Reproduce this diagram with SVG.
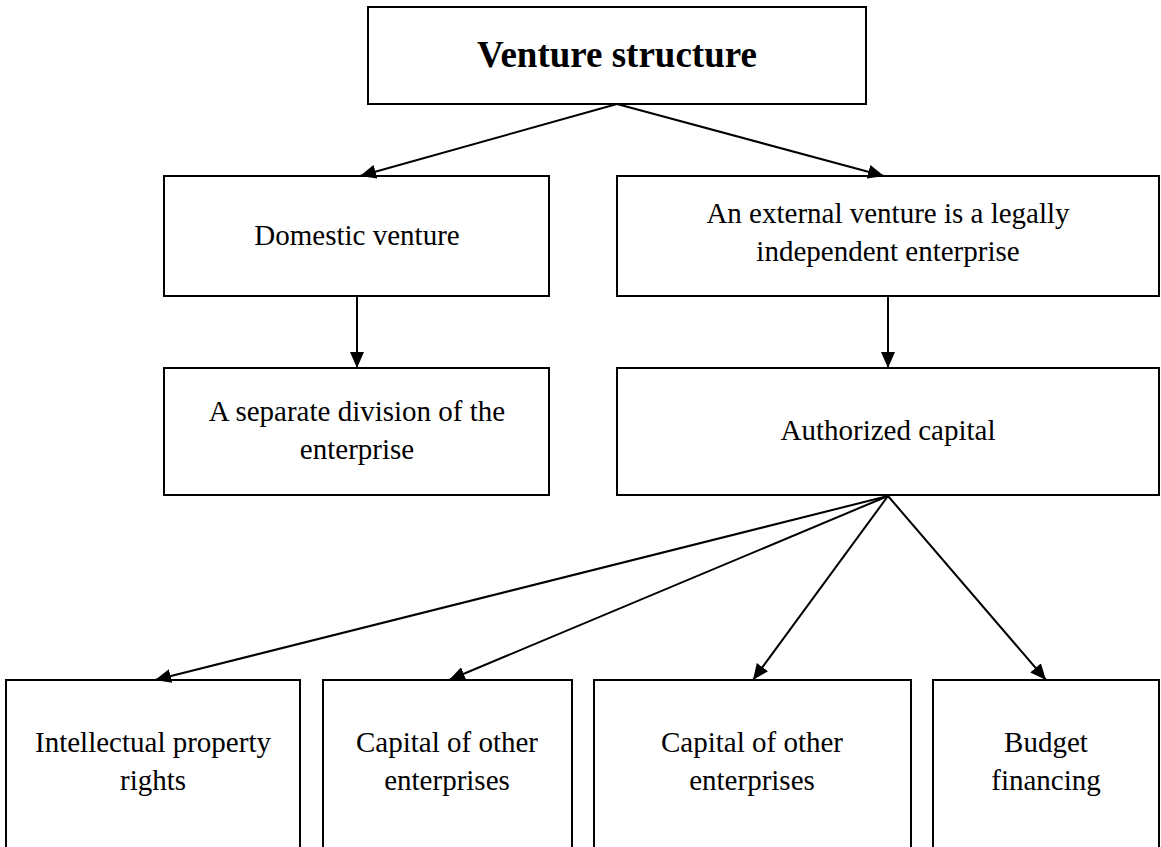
<svg xmlns="http://www.w3.org/2000/svg" width="1161" height="847" viewBox="0 0 1161 847">
<style>
.box{fill:#fff;stroke:#000;stroke-width:2}
.t{font-family:"Liberation Serif","Times New Roman",serif;font-size:29px;fill:#000;text-anchor:middle}
.title{font-family:"Liberation Serif","Times New Roman",serif;font-size:37px;font-weight:bold;fill:#000;text-anchor:middle}
.c{stroke:#000;stroke-width:2;fill:none;marker-end:url(#ah)}
</style>
<defs>
<marker id="ah" markerUnits="userSpaceOnUse" markerWidth="16" markerHeight="14" refX="16" refY="7" orient="auto">
<path d="M0,0 L16,7 L0,14 z" fill="#000"/>
</marker>
</defs>
<rect width="1161" height="847" fill="#fff"/>
<g id="n-root"><rect class="box" x="368" y="7" width="498" height="97"/><text class="title" x="617" y="67">Venture structure</text></g>
<g id="n-domestic"><rect class="box" x="164" y="176" width="385" height="120"/><text class="t" x="357" y="245">Domestic venture</text></g>
<g id="n-external"><rect class="box" x="617" y="176" width="542" height="120"/><text class="t" x="888" y="223">An external venture is a legally</text><text class="t" x="888" y="261">independent enterprise</text></g>
<g id="n-division"><rect class="box" x="164" y="368" width="385" height="127"/><text class="t" x="357" y="421">A separate division of the</text><text class="t" x="357" y="459">enterprise</text></g>
<g id="n-capital"><rect class="box" x="617" y="368" width="542" height="127"/><text class="t" x="888" y="440">Authorized capital</text></g>
<g id="n-ip"><rect class="box" x="6" y="680" width="294" height="180"/><text class="t" x="153" y="752">Intellectual property</text><text class="t" x="153" y="790">rights</text></g>
<g id="n-cap1"><rect class="box" x="323" y="680" width="249" height="180"/><text class="t" x="447" y="752">Capital of other</text><text class="t" x="447" y="790">enterprises</text></g>
<g id="n-cap2"><rect class="box" x="594" y="680" width="317" height="180"/><text class="t" x="752" y="752">Capital of other</text><text class="t" x="752" y="790">enterprises</text></g>
<g id="n-budget"><rect class="box" x="933" y="680" width="226" height="180"/><text class="t" x="1046" y="752">Budget</text><text class="t" x="1046" y="790">financing</text></g>
<g id="connectors">
<line class="c" x1="617" y1="104" x2="360" y2="176"/>
<line class="c" x1="617" y1="104" x2="884" y2="176"/>
<line class="c" x1="357" y1="296" x2="357" y2="368"/>
<line class="c" x1="888" y1="296" x2="888" y2="368"/>
<line class="c" x1="888" y1="496" x2="155" y2="680"/>
<line class="c" x1="888" y1="496" x2="449" y2="680"/>
<line class="c" x1="888" y1="496" x2="753" y2="680"/>
<line class="c" x1="888" y1="496" x2="1046" y2="680"/>
</g>
</svg>
